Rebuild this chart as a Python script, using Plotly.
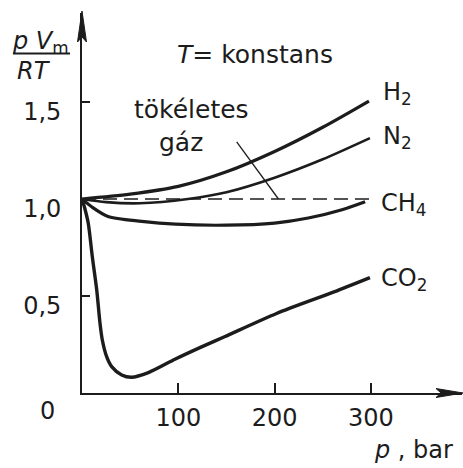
import plotly.graph_objects as go

# ---------------- data ----------------
p_h2 = [0, 50, 100, 150, 200, 250, 298]
z_h2 = [1.0, 1.025, 1.065, 1.14, 1.245, 1.37, 1.505]

p_n2 = [0, 25, 60, 110, 150, 200, 250, 299]
z_n2 = [1.0, 0.984, 0.978, 1.0, 1.035, 1.11, 1.205, 1.314]

p_ch4 = [0, 10, 27, 62, 97, 150, 200, 235, 270, 294]
z_ch4 = [1.0, 0.96, 0.91, 0.885, 0.87, 0.865, 0.876, 0.902, 0.945, 0.986]

p_co2 = [0, 3, 6.5, 10.7, 15.3, 18.7, 21.1, 25.6, 30.8, 41.2, 51.5, 68.9,
         97, 123, 148, 202, 261, 299]
z_co2 = [1.0, 0.95, 0.875, 0.703, 0.531, 0.359, 0.273, 0.187, 0.136, 0.093,
         0.081, 0.105, 0.175, 0.235, 0.29, 0.41, 0.52, 0.595]

p_ideal = [0, 302]
z_ideal = [1.0, 1.0]

x_ticks = [100, 200, 300]
x_tick_text = ["100", "200", "300"]
y_ticks = [0.5, 1.0, 1.5]
y_tick_text = ["0,5", "1,0", "1,5"]

# ---------------- layout geometry ----------------
W, H = 463, 468
L, R, T, B = 82, 462, 13, 393
X_PX_PER_BAR = 0.963
Y_PX_PER_UNIT = 194.0
x_range = [0, (R - L) / X_PX_PER_BAR]
y_range = [0, (B - T) / Y_PX_PER_UNIT]

INK = "#1c1c1c"
FONT = "DejaVu Sans"
FS = 24


def pxx(xp):
    return (xp - L) / (R - L)


def pxy(yp):
    return (B - yp) / (B - T)


fig = go.Figure()

for xs, ys, w in [(p_h2, z_h2, 3.2), (p_n2, z_n2, 2.6), (p_ch4, z_ch4, 3.2), (p_co2, z_co2, 3.4)]:
    fig.add_trace(go.Scatter(x=xs, y=ys, mode="lines",
                             line=dict(color=INK, width=w, shape="spline", smoothing=0.8),
                             hoverinfo="skip", showlegend=False, cliponaxis=False))

fig.add_trace(go.Scatter(x=p_ideal, y=z_ideal, mode="lines",
                         line=dict(color=INK, width=1.6, dash="14px,7px"),
                         hoverinfo="skip", showlegend=False))

# leader line from "tökéletes gáz" to the ideal-gas line
fig.add_shape(type="line", xref="x", yref="y", x0=160.6, y0=1.295, x1=204, y1=1.0,
              line=dict(color=INK, width=1.3))


def tri(points):
    return "M " + " L ".join(f"{pxx(a):.5f} {pxy(b):.5f}" for a, b in points) + " Z"


# arrow heads of the axes
fig.add_shape(type="path", xref="paper", yref="paper",
              path=tri([(L, 11), (L - 4.5, 42), (L, 37), (L + 4.5, 42)]),
              fillcolor=INK, line=dict(color=INK, width=1))
fig.add_shape(type="path", xref="paper", yref="paper",
              path=tri([(R + 1, B), (R - 26, B - 4.5), (R - 21, B), (R - 26, B + 4.5)]),
              fillcolor=INK, line=dict(color=INK, width=1))

ann = []


def text(t, x, y, xanchor="center", yanchor="middle", size=FS):
    ann.append(dict(text=t, x=pxx(x), y=pxy(y), xref="paper", yref="paper",
                    xanchor=xanchor, yanchor=yanchor, showarrow=False,
                    font=dict(family=FONT, size=size, color=INK)))


text("<i>T</i>= konstans", 255, 54, size=25)
text("tökéletes", 191, 109, size=25)
text("gáz", 181, 143, size=25)
text("H<sub>2</sub>", 381, 93, xanchor="left")
text("N<sub>2</sub>", 381, 137, xanchor="left")
text("CH<sub>4</sub>", 379, 204, xanchor="left")
text("CO<sub>2</sub>", 379, 279, xanchor="left")
text("0", 47, 411)
text("<i>p</i> , bar", 413, 450)
text("<i>p V</i><sub>m</sub>", 40, 42)
text("<i>RT</i>", 34, 71)
fig.add_shape(type="line", xref="paper", yref="paper",
              x0=pxx(13), x1=pxx(70), y0=pxy(53.5), y1=pxy(53.5),
              line=dict(color=INK, width=2))

fig.update_layout(
    width=W, height=H,
    margin=dict(l=L, r=W - R, t=T, b=H - B),
    paper_bgcolor="white", plot_bgcolor="white",
    annotations=ann,
    font=dict(family=FONT, size=FS, color=INK),
    xaxis=dict(range=x_range, tickvals=x_ticks, ticktext=x_tick_text,
               ticks="inside", ticklen=10, tickwidth=1.5, tickcolor=INK,
               showline=True, linewidth=1.6, linecolor=INK,
               showgrid=False, zeroline=False, ticklabelstandoff=2,
               tickfont=dict(family=FONT, size=FS, color=INK), fixedrange=True),
    yaxis=dict(range=y_range, tickvals=y_ticks, ticktext=y_tick_text,
               ticks="inside", ticklen=8, tickwidth=1.5, tickcolor=INK,
               showline=True, linewidth=1.6, linecolor=INK,
               showgrid=False, zeroline=False, ticklabelstandoff=14,
               ticklabelshift=10,
               tickfont=dict(family=FONT, size=FS, color=INK), fixedrange=True),
)

fig.write_html("out.html", config={"displayModeBar": False},
               post_script="document.body.style.margin='0';document.body.style.overflow='hidden';")
